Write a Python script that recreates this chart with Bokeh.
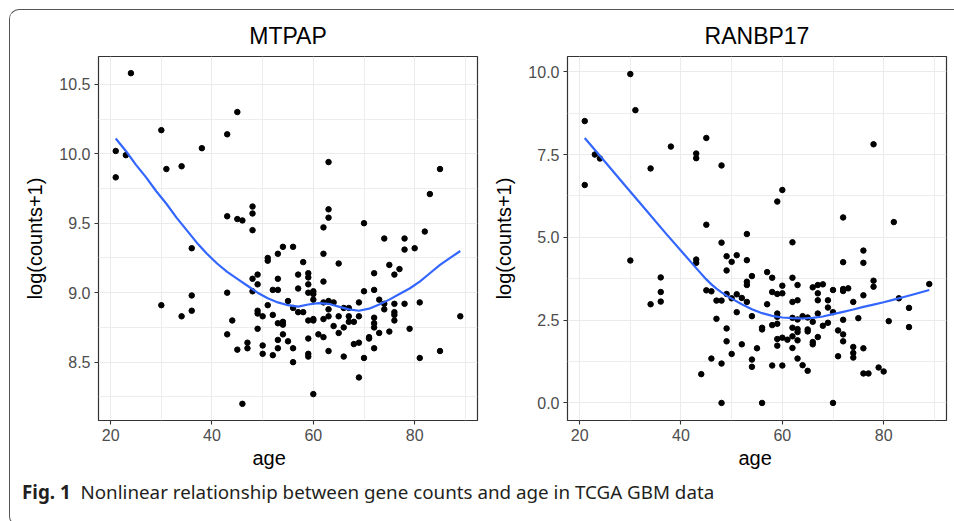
from bokeh.plotting import figure
from bokeh.layouts import row, column
from bokeh.models import Range1d, FixedTicker, Title, Div, PrintfTickFormatter
from bokeh.embed import file_html
from bokeh.resources import INLINE

# ---------------- data: MTPAP ----------------
mtpap_age = [24, 45, 30, 43, 21, 23, 38, 31, 34, 21, 43, 45, 46, 48, 48, 48,
             63, 85, 83, 63, 63, 62, 70, 82, 74, 78,
             36, 53, 51, 51, 49, 48, 49, 53, 52, 53, 48, 43, 36, 30, 36, 34,
             49, 49, 50, 51, 52, 53, 44, 43, 49, 53, 47, 47, 45, 50, 50, 52, 53, 46,
             54, 56, 62, 78, 80, 58, 65, 75, 77, 76, 72, 57, 59, 59, 62, 59, 57,
             72, 70, 59, 60, 60, 55, 60, 62, 63, 64, 63, 66, 67, 69, 73, 74, 74,
             76, 76, 76, 76, 78, 81, 89, 56, 57, 58, 54, 54, 59, 60, 60, 62, 63,
             65, 67, 68, 67, 69, 64, 66, 72, 72, 72, 79, 54, 55, 56, 59, 61, 62,
             65, 63, 59, 59, 66, 68, 69, 70, 71, 71, 72, 73, 75, 81, 85, 56, 69, 60]
mtpap_val = [10.58, 10.30, 10.17, 10.14, 10.02, 9.99, 10.04, 9.89, 9.91, 9.83, 9.55, 9.53, 9.52, 9.62, 9.57, 9.45,
             9.94, 9.89, 9.71, 9.60, 9.54, 9.47, 9.50, 9.44, 9.39, 9.39,
             9.32, 9.28, 9.25, 9.23, 9.13, 9.10, 9.06, 9.10, 9.02, 9.02, 9.01, 9.00, 8.98, 8.91, 8.87, 8.83,
             8.87, 8.85, 8.83, 8.91, 8.84, 8.78, 8.80, 8.70, 8.74, 8.66, 8.64, 8.60, 8.59, 8.62, 8.56, 8.55, 8.60, 8.20,
             9.33, 9.33, 9.28, 9.31, 9.32, 9.22, 9.21, 9.20, 9.17, 9.13, 9.14, 9.13, 9.14, 9.11, 9.08, 9.06, 9.03,
             9.02, 9.01, 9.00, 9.01, 8.99, 8.94, 8.95, 8.93, 8.94, 8.93, 8.88, 8.89, 8.89, 8.93, 8.95, 8.92, 8.88,
             8.92, 8.86, 8.84, 8.80, 8.92, 8.93, 8.83, 8.89, 8.86, 8.86, 8.79, 8.77, 8.80, 8.81, 8.80, 8.81, 8.83,
             8.83, 8.83, 8.79, 8.79, 8.83, 8.76, 8.75, 8.82, 8.78, 8.75, 8.74, 8.70, 8.65, 8.60, 8.67, 8.70, 8.68,
             8.71, 8.58, 8.56, 8.54, 8.54, 8.63, 8.64, 8.53, 8.67, 8.68, 8.60, 8.71, 8.72, 8.53, 8.58, 8.50, 8.39, 8.27]
# smooth (loess) curve
mtpap_fit_age = [21, 23, 25, 27, 29, 31, 33, 35, 37, 39, 41, 43, 45, 47, 49, 51, 53, 55, 57, 59,
                 61, 63, 65, 67, 69, 71, 73, 75, 77, 79, 81, 83, 85, 87, 89]
mtpap_fit_val = [10.11, 10.02, 9.92, 9.83, 9.73, 9.64, 9.54, 9.45, 9.36, 9.28, 9.21, 9.15, 9.10, 9.05,
                 9.00, 8.96, 8.93, 8.91, 8.90, 8.915, 8.925, 8.92, 8.90, 8.88, 8.87, 8.885, 8.915, 8.95,
                 8.99, 9.03, 9.08, 9.14, 9.20, 9.25, 9.30]

# ---------------- data: RANBP17 ----------------
ranbp_age = [30, 31, 21, 45, 38, 43, 43, 23, 24, 48, 34, 21, 45,
             78, 60, 59, 72, 82, 53,
             30, 36, 36, 36, 34, 43, 43, 48, 49, 50, 51, 49, 45, 46, 47, 48, 49, 50, 51, 52,
             51, 47, 49, 49, 52, 50, 46, 48, 44, 48, 53,
             62, 76, 76, 72, 57, 54, 53, 53, 58, 62, 63, 60, 58, 59, 60, 66, 67, 68, 67, 70,
             72, 72, 73, 76, 78, 78, 89, 53, 57, 62, 63, 67, 69, 69, 74, 83, 85, 54, 59, 59,
             58, 59, 56, 56, 62, 63, 64, 65, 66, 67, 68, 69, 70, 72, 75, 81, 85, 62, 63, 62,
             63, 59, 60, 61, 59, 63, 65, 65, 66, 66, 67, 71, 72, 72, 55, 62, 74, 74, 74, 76,
             71, 63, 54, 54, 58, 60, 64, 65, 76, 77, 79, 80, 56, 70]
ranbp_val = [9.93, 8.84, 8.51, 8.00, 7.74, 7.53, 7.39, 7.50, 7.38, 7.17, 7.08, 6.58, 5.38,
             7.81, 6.43, 6.08, 5.60, 5.46, 5.10,
             4.30, 3.79, 3.35, 3.06, 2.98, 4.33, 4.23, 4.84, 4.43, 4.26, 4.46, 4.00, 3.40, 3.37, 3.09, 3.09, 3.29, 3.16, 3.28, 3.17,
             2.74, 2.54, 2.25, 1.86, 1.77, 1.48, 1.34, 1.19, 0.87, 0.00, 4.31,
             4.85, 4.60, 4.23, 4.25, 3.95, 3.83, 3.66, 3.56, 3.78, 3.78, 3.56, 3.54, 3.35, 3.29, 3.31, 3.49, 3.56, 3.58, 3.31, 3.41,
             3.38, 3.44, 3.46, 3.25, 3.69, 3.51, 3.59, 3.05, 2.98, 3.05, 3.10, 3.10, 3.10, 2.88, 3.05, 3.16, 2.87, 2.62, 2.70, 2.60,
             2.35, 2.39, 2.27, 2.22, 2.57, 2.52, 2.62, 2.58, 2.45, 2.70, 2.33, 2.42, 2.74, 2.51, 2.56, 2.47, 2.29, 2.27, 2.23, 2.01,
             2.14, 1.93, 1.97, 1.91, 1.73, 1.89, 2.22, 2.16, 1.84, 1.77, 1.99, 2.19, 2.07, 1.86, 1.65, 1.66, 1.69, 1.51, 1.37, 1.65,
             1.41, 1.34, 1.31, 1.09, 1.13, 1.13, 1.14, 0.97, 0.89, 0.89, 1.07, 0.95, 0.00, 0.00]
ranbp_fit_age = [21, 25, 29, 33, 37, 41, 43, 45, 46, 47, 48, 49, 50, 52, 54, 56, 58, 60, 62, 64,
                 66, 68, 70, 72, 74, 76, 78, 80, 82, 84, 86, 89]
ranbp_fit_val = [8.00, 7.28, 6.56, 5.84, 5.12, 4.42, 4.07, 3.73, 3.58, 3.45, 3.34, 3.24, 3.15, 2.98, 2.83,
                 2.71, 2.63, 2.58, 2.56, 2.55, 2.57, 2.61, 2.68, 2.75, 2.82, 2.90, 2.97, 3.04, 3.12, 3.20,
                 3.28, 3.41]

# ---------------- axis / tick labels ----------------
x_ticks = [20, 40, 60, 80]
x_minor = [30, 50, 70, 90]
mtpap_yticks = [8.5, 9.0, 9.5, 10.0, 10.5]
mtpap_yminor = [8.25, 8.75, 9.25, 9.75, 10.25]
ranbp_yticks = [0.0, 2.5, 5.0, 7.5, 10.0]
ranbp_yminor = [1.25, 3.75, 6.25, 8.75]
titles = ["MTPAP", "RANBP17"]
x_label = "age"
y_label = "log(counts+1)"
caption_bold = "Fig. 1"
caption_text = "Nonlinear relationship between gene counts and age in TCGA GBM data"

FONT = "Liberation Sans"
GRID = "#EBEBEB"


def panel(title, ages, vals, fit_age, fit_val, yr, yticks, yminor, mbl, mbr, xoff):
    p = figure(frame_width=379, frame_height=364,
               x_range=Range1d(17.6, 92.4), y_range=Range1d(*yr),
               output_backend="svg", toolbar_location=None,
               min_border_left=mbl, min_border_right=mbr,
               min_border_top=0, min_border_bottom=50,
               background_fill_color="white", border_fill_color="white")
    p.margin = 0
    p.title.text = title
    p.title.align = "center"
    p.title.text_font = FONT
    p.title.text_font_size = "23px"
    p.title.text_font_style = "normal"
    p.title.text_color = "black"
    p.title.standoff = 15

    p.outline_line_color = "#333333"
    p.outline_line_width = 1.2
    p.outline_line_alpha = 1

    p.xaxis.ticker = FixedTicker(ticks=x_ticks, minor_ticks=x_minor)
    p.yaxis.ticker = FixedTicker(ticks=yticks, minor_ticks=yminor)
    p.yaxis.formatter = PrintfTickFormatter(format="%.1f")
    for ax in (p.xaxis[0], p.yaxis[0]):
        ax.axis_line_color = None
        ax.major_tick_line_color = "#333333"
        ax.major_tick_line_width = 1.1
        ax.major_tick_out = 4
        ax.major_tick_in = 0
        ax.minor_tick_line_color = None
        ax.major_label_text_font = FONT
        ax.major_label_text_font_size = "16px"
        ax.major_label_text_color = "#4D4D4D"
        ax.major_label_standoff = 4
    p.yaxis.axis_label = y_label
    p.yaxis.axis_label_text_font = FONT
    p.yaxis.axis_label_text_font_size = "20px"
    p.yaxis.axis_label_text_font_style = "normal"
    p.yaxis.axis_label_text_color = "black"
    p.yaxis.axis_label_standoff = 10

    xt = Title(text=x_label, align="left", offset=xoff, text_font=FONT,
               text_font_size="20px", text_font_style="normal", text_color="black", standoff=2)
    p.add_layout(xt, "below")

    for g in (p.xgrid[0], p.ygrid[0]):
        g.grid_line_color = GRID
        g.grid_line_width = 1.1
        g.minor_grid_line_color = GRID
        g.minor_grid_line_width = 0.9

    p.scatter(ages, vals, size=5.5, color="black")
    p.line(fit_age, fit_val, line_color="#3366FF", line_width=2.2, line_join="round")
    return p


p1 = panel(titles[0], mtpap_age, mtpap_val, mtpap_fit_age, mtpap_fit_val,
           (8.08, 10.70), mtpap_yticks, mtpap_yminor, 88, 13, 154)
p2 = panel(titles[1], ranbp_age, ranbp_val, ranbp_fit_age, ranbp_fit_val,
           (-0.53, 10.46), ranbp_yticks, ranbp_yminor, 74, 8, 171)

cap = Div(text=f'<span style="font-weight:bold">{caption_bold}</span>&nbsp;&nbsp;{caption_text}',
          width=900, height=44, margin=(11, 0, 0, 12),
          styles={"font-family": "Noto Sans", "font-size": "18.8px", "color": "#231F20",
                  "line-height": "22px"})

layout = column(row(p1, p2, spacing=0, margin=(3, 0, 0, 0)), cap, spacing=0,
                styles={"border-left": "1px solid #555555", "border-top": "1px solid #555555",
                        "border-bottom": "1px solid #555555", "border-radius": "10px 0 0 10px"},
                margin=(9, 0, 0, 9))

open("out.html", "w").write(file_html(layout, INLINE))
